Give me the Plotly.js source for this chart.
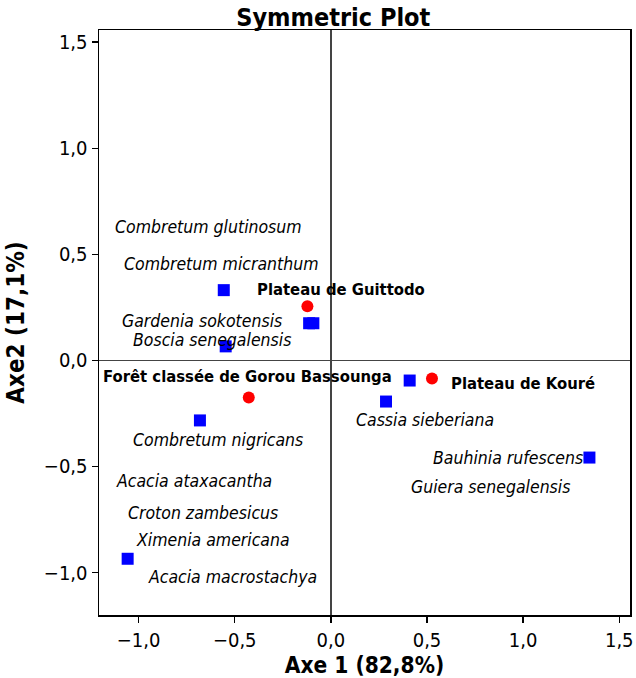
<!DOCTYPE html>
<html><head><meta charset="utf-8">
<script src="https://cdn.plot.ly/plotly-3.0.1.min.js"></script>
<style>html,body{margin:0;padding:0;background:#fff}#chart{width:636px;height:678px}</style>
</head><body><div id="chart"></div>
<script>
// Species (column) points - blue squares
const speciesX = [-0.557, -0.113, -0.091, -0.547, -0.681, -1.057, 0.410, 0.287, 1.345];
const speciesY = [0.331, 0.175, 0.175, 0.066, -0.283, -0.935, -0.095, -0.194, -0.458];
// Site (row) points - red circles
const siteNames = ["Plateau de Guittodo", "Forêt classée de Gorou Bassounga", "Plateau de Kouré"];
const siteX = [-0.122, -0.427, 0.526];
const siteY = [0.255, -0.175, -0.085];
// Species label texts
const speciesNames = ["Combretum glutinosum", "Combretum micranthum", "Gardenia sokotensis", "Boscia senegalensis",
  "Combretum nigricans", "Acacia ataxacantha", "Croton zambesicus", "Ximenia americana", "Acacia macrostachya",
  "Cassia sieberiana", "Bauhinia rufescens", "Guiera senegalensis"];
const xTicks = [-1.0, -0.5, 0.0, 0.5, 1.0, 1.5];
const yTicks = [-1.0, -0.5, 0.0, 0.5, 1.0, 1.5];

// label placement (layout)
const speciesLabelPos = [[-0.637,0.628],[-0.567,0.453],[-0.671,0.184],[-0.619,0.094],[-0.588,-0.373],[-0.712,-0.567],
  [-0.663,-0.718],[-0.614,-0.846],[-0.513,-1.020],[0.490,-0.283],[0.920,-0.458],[0.832,-0.595]];
const siteLabelPos = [[0.054,0.335],[-0.435,-0.076],[0.997,-0.109]];

const FONT = "DejaVu Sans Condensed, DejaVu Sans, sans-serif";
const annotations = [];
speciesNames.forEach((t,i)=>annotations.push({x:speciesLabelPos[i][0], y:speciesLabelPos[i][1], xref:'x', yref:'y',
  text:'<i>'+t+'</i>', showarrow:false, font:{family:FONT, size:17.5, color:'#000'}}));
siteNames.forEach((t,i)=>annotations.push({x:siteLabelPos[i][0], y:siteLabelPos[i][1], xref:'x', yref:'y',
  text:'<b>'+t+'</b>', showarrow:false, font:{family:FONT, size:16.5, color:'#000'}}));

const traces = [
  {x:speciesX, y:speciesY, type:'scatter', mode:'markers', marker:{symbol:'square', size:12, color:'#0000FF'}, hoverinfo:'skip'},
  {x:siteX, y:siteY, type:'scatter', mode:'markers', marker:{symbol:'circle', size:12, color:'#FF0000'}, hoverinfo:'skip'}
];

const axisCommon = {showgrid:false, zeroline:true, zerolinecolor:'#444', zerolinewidth:1.3,
  showline:true, linecolor:'#000', linewidth:1.5, mirror:true, ticks:'outside', ticklen:6, tickwidth:1.3, tickcolor:'#000',
  tickfont:{family:FONT, size:20, color:'#000'}, tickformat:'.1f', tickmode:'array'};

const layout = {
  width:636, height:678, paper_bgcolor:'#fff', plot_bgcolor:'#fff', showlegend:false,
  separators:',.',
  margin:{l:99, r:6, t:30, b:63},
  title:{text:'<b>Symmetric Plot</b>', font:{family:FONT, size:25, color:'#000'}, x:0.524, xref:'container', xanchor:'center', y:0.988, yref:'container', yanchor:'top'},
  xaxis:Object.assign({}, axisCommon, {range:[-1.206,1.556], tickvals:xTicks,
    title:{text:'<b>Axe 1 (82,8%)</b>', font:{family:FONT, size:22.5, color:'#000'}, standoff:0}}),
  yaxis:Object.assign({}, axisCommon, {range:[-1.2,1.557], tickvals:yTicks,
    title:{text:'<b>Axe2 (17,1%)</b>', font:{family:FONT, size:24, color:'#000'}, standoff:12}}),
  annotations:annotations
};
Plotly.newPlot('chart', traces, layout, {displayModeBar:false, staticPlot:true});
</script></body></html>
